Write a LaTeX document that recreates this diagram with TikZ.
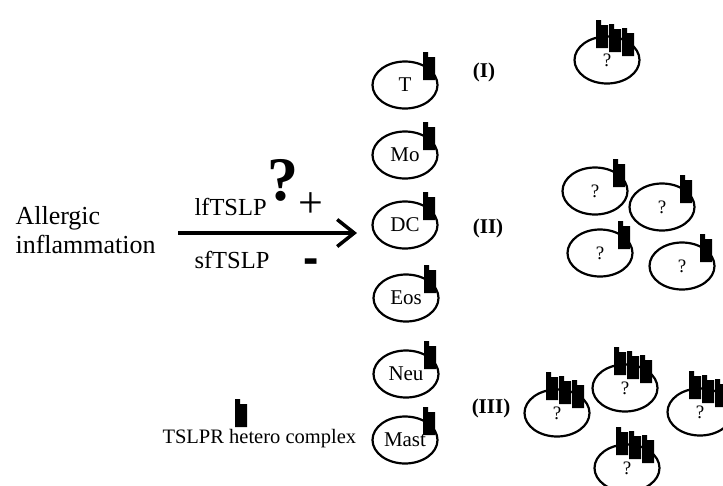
\documentclass[tikz,border=0pt]{standalone}
\usepackage{fontspec}
\setmainfont{Liberation Serif}
\newfontfamily\sansf{Liberation Sans}
\usetikzlibrary{shapes.geometric,arrows.meta}
\begin{document}
\begin{tikzpicture}[x=1pt,y=-1pt,
  cell/.style={draw,ellipse,line width=2.2pt,minimum width=65pt,minimum height=47pt,inner sep=0pt,font=\fontsize{21}{22}\selectfont},
  qcell/.style={cell,font=\fontsize{19}{20}\selectfont},
  rec/.pic={\fill[black] (0,0) -- (5,0) -- (5,5) -- (12,5) -- (12,28) -- (0,28) -- cycle;},
  tri/.pic={\pic at (0,0) {rec}; \pic at (13,4) {rec}; \pic at (26,8) {rec};},
  lab/.style={font=\bfseries\fontsize{21}{22}\selectfont},
  txt/.style={font=\fontsize{24.5}{26}\selectfont}]
\useasboundingbox (0,0) rectangle (723,485);

% left text
\node[anchor=base west,font=\fontsize{26}{28}\selectfont] (all1) at (12,224) {Allergic};
\node[anchor=base west,font=\fontsize{26}{28}\selectfont] (all2) at (12,253) {inflammation};

% arrow
\coordinate (astart) at (178,233);
\coordinate (aend) at (357,233);
\draw[line width=3.5pt,-{Straight Barb[length=17pt,width=27pt,line width=3.5pt]}] (astart) -- (aend);
\node[txt,anchor=base west] (lf) at (191,215) {lfTSLP};
\node[txt,anchor=base west] (sf) at (191,268) {sfTSLP};
\node[font=\bfseries\fontsize{62}{62}\selectfont] (qm) at (283,180) {?};
\node[font=\fontsize{44}{44}\selectfont] (plus) at (311,205) {+};
\node[font=\sansf\bfseries\fontsize{46}{46}\selectfont,anchor=base] (minus) at (311,273) {-};

% cell column
\foreach \n/\t/\x/\y in {t/T/405/85, mo/Mo/405/155, dc/DC/405/225, eos/Eos/406/298, neu/Neu/406/374, mast/Mast/405/440}{
  \node[cell] (\n) at (\x,\y) {\t};
  \pic at (\x+18,\y-33) {rec};
}

% labels
\node[lab] (l1) at (484,72) {(I)};
\node[lab] (l2) at (488,228) {(II)};
\node[lab] (l3) at (491,408) {(III)};

% group I
\node[qcell] (g1) at (607,60) {?};
\pic at (596,20) {tri};

% group II
\foreach \n/\x/\y in {ga/595/191, gb/662/207, gc/600/253, gd/682/266}{
  \node[qcell] (\n) at (\x,\y) {?};
  \pic at (\x+18,\y-32) {rec};
}

% group III
\foreach \n/\x/\y in {ha/557/413, hb/625/388, hc/700/412, hd/627/468}{
  \node[qcell] (\n) at (\x,\y) {?};
  \pic at (\x-11,\y-41) {tri};
}

% legend
\pic at (235,399) {rec};
\node[anchor=base west,font=\fontsize{20.5}{22}\selectfont] (leg) at (159,443) {TSLPR hetero complex};
\end{tikzpicture}
\end{document}
